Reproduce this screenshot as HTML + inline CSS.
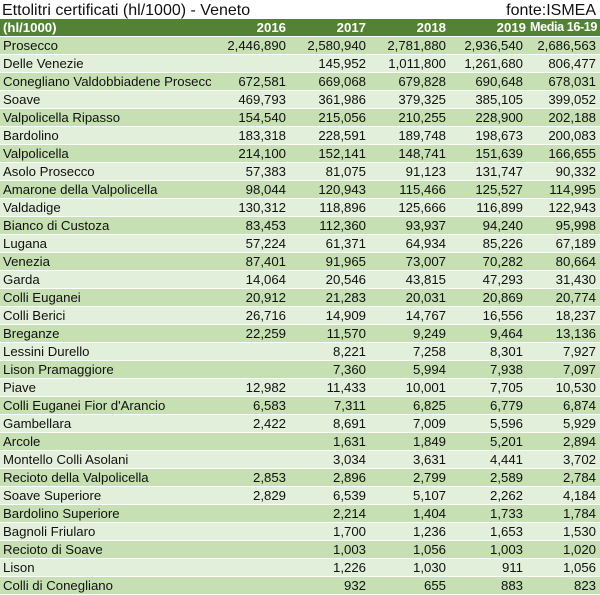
<!DOCTYPE html>
<html><head><meta charset="utf-8"><style>
body{margin:0;width:600px;height:595px;overflow:hidden;background:#fff;font-family:"Liberation Sans",sans-serif;}
.t{position:absolute;top:0;height:20px;line-height:22px;font-size:16px;color:#111;}
table{position:absolute;top:19px;left:0;border-collapse:collapse;table-layout:fixed;width:600px;font-size:13.2px;color:#111;}
td{height:17px;padding:0 4px 0 3px;border-bottom:1px solid #fff;white-space:nowrap;overflow:hidden;text-align:right;line-height:17px;}
td:first-child{text-align:left;padding-left:3px;text-overflow:clip;}
tr.h td{background:#548235;color:#fff;font-weight:bold;height:17px;font-size:13.2px;}
tr.h td:last-child{padding:0 3px 0 0;font-size:12.6px;letter-spacing:-0.4px;overflow:visible;}
tr:nth-child(even) td{background:#c6e0b4;}
tr:nth-child(odd):not(.h) td{background:#e2efda;}
</style></head><body>
<div class="t" style="left:2px">Ettolitri certificati (hl/1000) - Veneto</div>
<div class="t" style="right:4px">fonte:ISMEA</div>
<table>
<colgroup><col style="width:211px"><col style="width:79px"><col style="width:80px"><col style="width:80px"><col style="width:77px"><col style="width:73px"></colgroup>
<tr class="h"><td>(hl/1000)</td><td>2016</td><td>2017</td><td>2018</td><td style="padding-right:1px">2019</td><td>Media 16-19</td></tr>
<tr><td>Prosecco</td><td>2,446,890</td><td>2,580,940</td><td>2,781,880</td><td>2,936,540</td><td>2,686,563</td></tr>
<tr><td>Delle Venezie</td><td></td><td>145,952</td><td>1,011,800</td><td>1,261,680</td><td>806,477</td></tr>
<tr><td>Conegliano Valdobbiadene Prosecco</td><td>672,581</td><td>669,068</td><td>679,828</td><td>690,648</td><td>678,031</td></tr>
<tr><td>Soave</td><td>469,793</td><td>361,986</td><td>379,325</td><td>385,105</td><td>399,052</td></tr>
<tr><td>Valpolicella Ripasso</td><td>154,540</td><td>215,056</td><td>210,255</td><td>228,900</td><td>202,188</td></tr>
<tr><td>Bardolino</td><td>183,318</td><td>228,591</td><td>189,748</td><td>198,673</td><td>200,083</td></tr>
<tr><td>Valpolicella</td><td>214,100</td><td>152,141</td><td>148,741</td><td>151,639</td><td>166,655</td></tr>
<tr><td>Asolo Prosecco</td><td>57,383</td><td>81,075</td><td>91,123</td><td>131,747</td><td>90,332</td></tr>
<tr><td>Amarone della Valpolicella</td><td>98,044</td><td>120,943</td><td>115,466</td><td>125,527</td><td>114,995</td></tr>
<tr><td>Valdadige</td><td>130,312</td><td>118,896</td><td>125,666</td><td>116,899</td><td>122,943</td></tr>
<tr><td>Bianco di Custoza</td><td>83,453</td><td>112,360</td><td>93,937</td><td>94,240</td><td>95,998</td></tr>
<tr><td>Lugana</td><td>57,224</td><td>61,371</td><td>64,934</td><td>85,226</td><td>67,189</td></tr>
<tr><td>Venezia</td><td>87,401</td><td>91,965</td><td>73,007</td><td>70,282</td><td>80,664</td></tr>
<tr><td>Garda</td><td>14,064</td><td>20,546</td><td>43,815</td><td>47,293</td><td>31,430</td></tr>
<tr><td>Colli Euganei</td><td>20,912</td><td>21,283</td><td>20,031</td><td>20,869</td><td>20,774</td></tr>
<tr><td>Colli Berici</td><td>26,716</td><td>14,909</td><td>14,767</td><td>16,556</td><td>18,237</td></tr>
<tr><td>Breganze</td><td>22,259</td><td>11,570</td><td>9,249</td><td>9,464</td><td>13,136</td></tr>
<tr><td>Lessini Durello</td><td></td><td>8,221</td><td>7,258</td><td>8,301</td><td>7,927</td></tr>
<tr><td>Lison Pramaggiore</td><td></td><td>7,360</td><td>5,994</td><td>7,938</td><td>7,097</td></tr>
<tr><td>Piave</td><td>12,982</td><td>11,433</td><td>10,001</td><td>7,705</td><td>10,530</td></tr>
<tr><td>Colli Euganei Fior d'Arancio</td><td>6,583</td><td>7,311</td><td>6,825</td><td>6,779</td><td>6,874</td></tr>
<tr><td>Gambellara</td><td>2,422</td><td>8,691</td><td>7,009</td><td>5,596</td><td>5,929</td></tr>
<tr><td>Arcole</td><td></td><td>1,631</td><td>1,849</td><td>5,201</td><td>2,894</td></tr>
<tr><td>Montello Colli Asolani</td><td></td><td>3,034</td><td>3,631</td><td>4,441</td><td>3,702</td></tr>
<tr><td>Recioto della Valpolicella</td><td>2,853</td><td>2,896</td><td>2,799</td><td>2,589</td><td>2,784</td></tr>
<tr><td>Soave Superiore</td><td>2,829</td><td>6,539</td><td>5,107</td><td>2,262</td><td>4,184</td></tr>
<tr><td>Bardolino Superiore</td><td></td><td>2,214</td><td>1,404</td><td>1,733</td><td>1,784</td></tr>
<tr><td>Bagnoli Friularo</td><td></td><td>1,700</td><td>1,236</td><td>1,653</td><td>1,530</td></tr>
<tr><td>Recioto di Soave</td><td></td><td>1,003</td><td>1,056</td><td>1,003</td><td>1,020</td></tr>
<tr><td>Lison</td><td></td><td>1,226</td><td>1,030</td><td>911</td><td>1,056</td></tr>
<tr><td>Colli di Conegliano</td><td></td><td>932</td><td>655</td><td>883</td><td>823</td></tr>
</table>
</body></html>
